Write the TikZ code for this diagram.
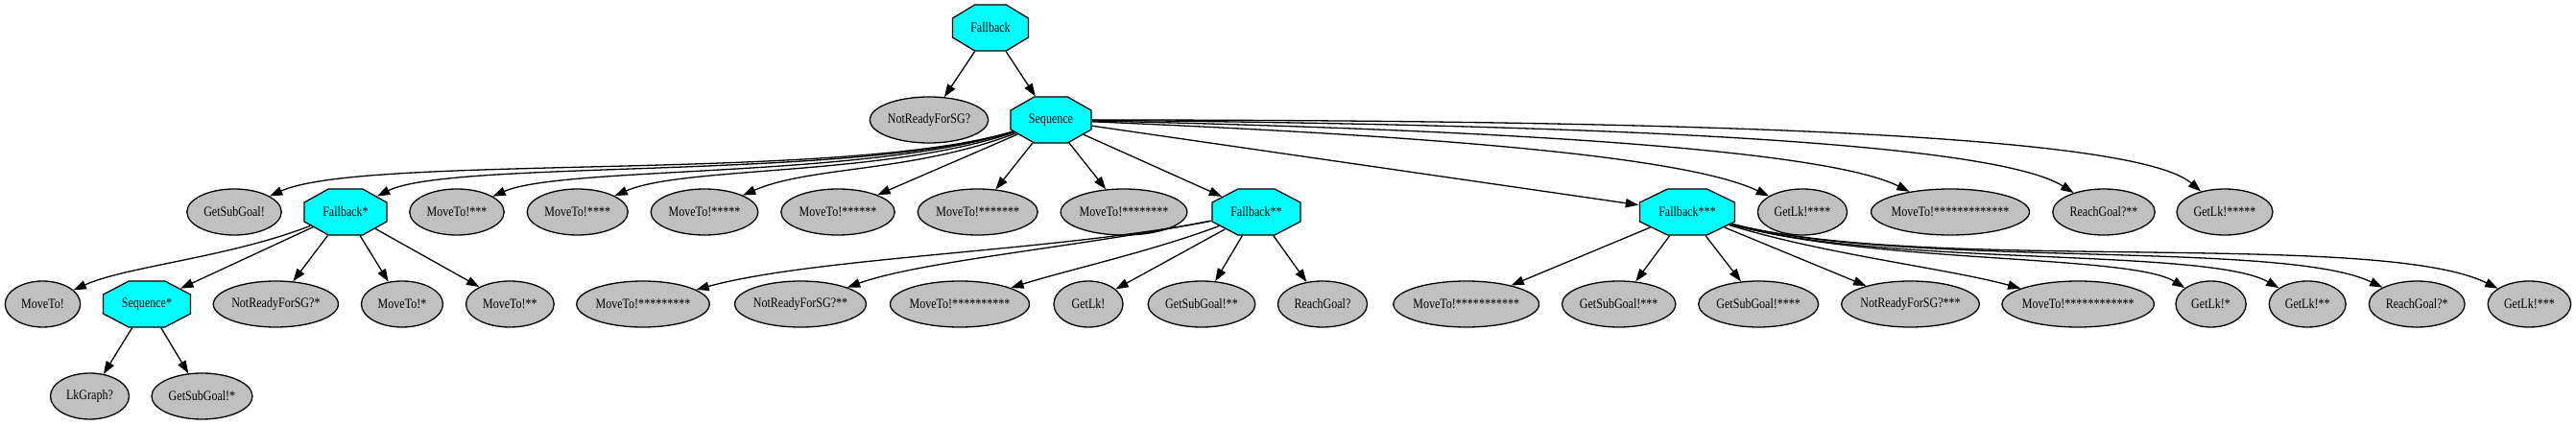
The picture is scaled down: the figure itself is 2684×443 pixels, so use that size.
\documentclass[tikz,border=0pt]{standalone}
\usepackage{fontspec}
\setmainfont{Liberation Serif}[FakeStretch=0.83]
\usepackage{graphicx}
\usetikzlibrary{shapes.geometric,arrows.meta}
\definecolor{gvgray}{RGB}{192,192,192}
\definecolor{gvcyan}{RGB}{0,255,255}
\tikzset{
  gvfont/.style={font=\fontsize{7.25pt}{8.5pt}\selectfont},
  leaf/.style={ellipse, draw=black, fill=gvgray, line width=0.65pt, inner sep=0pt, minimum height=24pt, gvfont},
  octnode/.style={regular polygon, regular polygon sides=8, draw=black, fill=gvcyan, line width=0.65pt, inner sep=0pt, minimum size=25.98pt, transform shape, gvfont},
  gvedge/.style={draw=black, line width=0.65pt, -{Triangle[length=6.67pt,width=4.67pt]}},
}
\newcommand\gvleaf[5]{\node[leaf, minimum width=#5*0.5pt] (#1) at (#2,#3) {\makebox[0pt]{#4}};}
\newcommand\gvoct[5]{\pgfmathsetmacro\gvinv{48/#5}\pgfmathsetmacro\gvsc{#5/48}%
  \begin{scope}[shift={(#2,#3)},xscale=\gvsc]\node[octnode] (#1) at (0,0) {\scalebox{\gvinv}[1]{\makebox[0pt]{#4}}};\end{scope}}
\begin{document}
\begin{tikzpicture}[x=0.5pt,y=-0.5pt]
\useasboundingbox (0,0) rectangle (2684,443);
% row 0
\gvoct{F0}{1032}{29}{Fallback}{79}
% row 1
\gvleaf{nr0}{968}{125}{NotReadyForSG?}{123.5}
\gvoct{S0}{1095}{125}{Sequence}{84}
% row 2
\gvleaf{gs0}{244}{221}{GetSubGoal!}{98.4}
\gvoct{F1}{360}{221}{Fallback*}{86}
\gvleaf{m3}{476}{221}{MoveTo!***}{98.4}
\gvleaf{m4}{601.7}{221}{MoveTo!****}{105}
\gvleaf{m5}{734}{221}{MoveTo!*****}{111.7}
\gvleaf{m6}{873}{221}{MoveTo!******}{118.4}
\gvleaf{m7}{1018.7}{221}{MoveTo!*******}{125}
\gvleaf{m8}{1171}{221}{MoveTo!********}{131.7}
\gvoct{F2}{1309}{221}{Fallback**}{92}
\gvoct{F3}{1758}{221}{Fallback***}{99}
\gvleaf{gl4}{1878}{221}{GetLk!****}{93.2}
\gvleaf{m13}{2032}{221}{MoveTo!*************}{165}
\gvleaf{rg2}{2192}{221}{ReachGoal?**}{106.4}
\gvleaf{gl5}{2318}{221}{GetLk!*****}{100}
% row 3
\gvleaf{m0}{44.5}{317}{MoveTo!}{78.4}
\gvoct{S1}{153}{317}{Sequence*}{91}
\gvleaf{nr1}{287.4}{317}{NotReadyForSG?*}{130.2}
\gvleaf{m1}{419}{317}{MoveTo!*}{85}
\gvleaf{m2}{531.4}{317}{MoveTo!**}{91.7}
\gvleaf{m9}{670}{317}{MoveTo!*********}{138.4}
\gvleaf{nr2}{834}{317}{NotReadyForSG?**}{136.8}
\gvleaf{m10}{1000}{317}{MoveTo!**********}{145}
\gvleaf{gl0}{1134}{317}{GetLk!}{72}
\gvleaf{gs2}{1252}{317}{GetSubGoal!**}{111.7}
\gvleaf{rg0}{1378}{317}{ReachGoal?}{93.1}
\gvleaf{m11}{1527.7}{317}{MoveTo!***********}{151.7}
\gvleaf{gs3}{1686.7}{317}{GetSubGoal!***}{118.4}
\gvleaf{gs4}{1832.2}{317}{GetSubGoal!****}{125}
\gvleaf{nr3}{1990.5}{317}{NotReadyForSG?***}{143.5}
\gvleaf{m12}{2165.2}{317}{MoveTo!************}{158.4}
\gvleaf{gl1}{2303.6}{317}{GetLk!*}{73.2}
\gvleaf{gl2}{2404.2}{317}{GetLk!**}{79.9}
\gvleaf{rg1}{2518.2}{317}{ReachGoal?*}{99.8}
\gvleaf{gl3}{2635.4}{317}{GetLk!***}{86.5}
% row 4
\gvleaf{lk}{93.5}{413}{LkGraph?}{82}
\gvleaf{gs1}{210.5}{413}{GetSubGoal!*}{105}
% edges
\draw[gvedge] (F0) -- (nr0);
\draw[gvedge] (F0) -- (S0);
\draw[gvedge] (S0) .. controls (880,190) and (380,160) .. (gs0);
\draw[gvedge] (S0) .. controls (890,188) and (470,166) .. (F1);
\draw[gvedge] (S0) .. controls (900,186) and (586,173) .. (m3);
\draw[gvedge] (S0) .. controls (920,184) and (712,173) .. (m4);
\draw[gvedge] (S0) .. controls (950,180) and (844,173) .. (m5);
\draw[gvedge] (S0) -- (m6);
\draw[gvedge] (S0) -- (m7);
\draw[gvedge] (S0) -- (m8);
\draw[gvedge] (S0) -- (F2);
\draw[gvedge] (S0) -- (F3);
\draw[gvedge] (S0) .. controls (1450,140) and (1750,160) .. (gl4);
\draw[gvedge] (S0) .. controls (1550,135) and (1900,155) .. (m13);
\draw[gvedge] (S0) .. controls (1700,130) and (2080,150) .. (rg2);
\draw[gvedge] (S0) .. controls (1850,125) and (2230,145) .. (gl5);
\draw[gvedge] (F1) .. controls (240,268) and (130,278) .. (m0);
\draw[gvedge] (F1) -- (S1);
\draw[gvedge] (F1) -- (nr1);
\draw[gvedge] (F1) -- (m1);
\draw[gvedge] (F1) -- (m2);
\draw[gvedge] (S1) -- (lk);
\draw[gvedge] (S1) -- (gs1);
\draw[gvedge] (F2) .. controls (1100,262) and (850,268) .. (m9);
\draw[gvedge] (F2) .. controls (1120,258) and (960,272) .. (nr2);
\draw[gvedge] (F2) .. controls (1200,262) and (1110,282) .. (m10);
\draw[gvedge] (F2) -- (gl0);
\draw[gvedge] (F2) -- (gs2);
\draw[gvedge] (F2) -- (rg0);
\draw[gvedge] (F3) -- (m11);
\draw[gvedge] (F3) -- (gs3);
\draw[gvedge] (F3) -- (gs4);
\draw[gvedge] (F3) -- (nr3);
\draw[gvedge] (F3) .. controls (1900,265) and (2030,280) .. (m12);
\draw[gvedge] (F3) .. controls (1950,275) and (2220,265) .. (gl1);
\draw[gvedge] (F3) .. controls (1960,278) and (2300,258) .. (gl2);
\draw[gvedge] (F3) .. controls (1980,280) and (2380,250) .. (rg1);
\draw[gvedge] (F3) .. controls (2000,285) and (2480,240) .. (gl3);
\end{tikzpicture}
\end{document}
